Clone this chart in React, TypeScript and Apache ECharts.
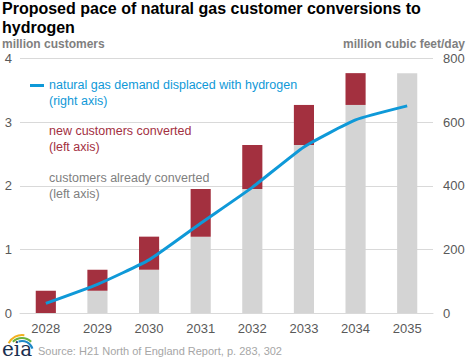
import React, { useEffect, useRef } from "react";
import * as echarts from "echarts";

const years = ["2028", "2029", "2030", "2031", "2032", "2033", "2034", "2035"];
const alreadyConverted = [0, 0.35, 0.68, 1.2, 1.95, 2.64, 3.27, 3.77];
const newConverted = [0.35, 0.33, 0.52, 0.75, 0.69, 0.63, 0.5, 0];
const gasDisplaced = [30, 90, 167, 282, 395, 522, 607, 651];
const leftTicks = [0, 1, 2, 3, 4];
const rightTicks = [0, 200, 400, 600, 800];

const FONT = "Liberation Sans, Arial, sans-serif";
const BLUE = "#0f99d8";
const RED = "#a3303f";
const GRAY = "#d4d4d4";

export default function App() {
  const ref = useRef<HTMLDivElement>(null);
  useEffect(() => {
    if (!ref.current) return;
    const chart = echarts.init(ref.current, undefined, { renderer: "svg" });
    chart.setOption({
      animation: false,
      textStyle: { fontFamily: FONT },
      grid: { left: 20, right: 35, top: 58.5, bottom: 47, containLabel: false, outerBoundsMode: "none" },
      xAxis: {
        type: "category",
        data: years,
        axisTick: { show: false },
        axisLine: { lineStyle: { color: "#d9d9d9" } },
        axisLabel: { color: "#595959", fontSize: 13, margin: 9, fontFamily: FONT },
      },
      yAxis: [
        {
          type: "value",
          min: leftTicks[0],
          max: leftTicks[leftTicks.length - 1],
          interval: 1,
          axisLine: { show: false },
          axisTick: { show: false },
          splitLine: { lineStyle: { color: "#d9d9d9" } },
          axisLabel: { color: "#595959", fontSize: 13, margin: 8, fontFamily: FONT },
        },
        {
          type: "value",
          min: rightTicks[0],
          max: rightTicks[rightTicks.length - 1],
          interval: 200,
          position: "right",
          axisLine: { show: false },
          axisTick: { show: false },
          splitLine: { show: false },
          axisLabel: { color: "#595959", fontSize: 13, margin: 10, fontFamily: FONT },
        },
      ],
      series: [
        {
          type: "bar",
          name: "customers already converted",
          stack: "c",
          data: alreadyConverted,
          barWidth: "39%",
          itemStyle: { color: GRAY },
          yAxisIndex: 0,
        },
        {
          type: "bar",
          name: "new customers converted",
          stack: "c",
          data: newConverted,
          barWidth: "39%",
          itemStyle: { color: RED },
          yAxisIndex: 0,
        },
        {
          type: "line",
          name: "natural gas demand displaced with hydrogen",
          data: gasDisplaced,
          yAxisIndex: 1,
          symbol: "none",
          smooth: 0.15,
          lineStyle: { color: BLUE, width: 3 },
          itemStyle: { color: BLUE },
          z: 5,
        },
      ],
      graphic: [
        { type: "text", left: 2, top: 0, style: { text: "Proposed pace of natural gas customer conversions to", font: `bold 16px ${FONT}`, fill: "#000" } },
        { type: "text", left: 2, top: 19, style: { text: "hydrogen", font: `bold 16px ${FONT}`, fill: "#000" } },
        { type: "text", left: 2, top: 38, style: { text: "million customers", font: `bold 12px ${FONT}`, fill: "#7f7f7f" } },
        { type: "text", right: 3, top: 38, style: { text: "million cubic feet/day", font: `bold 12px ${FONT}`, fill: "#7f7f7f" } },
        { type: "line", shape: { x1: 30, y1: 85.5, x2: 44, y2: 85.5 }, style: { stroke: BLUE, lineWidth: 3 } },
        { type: "text", left: 49, top: 78, style: { text: "natural gas demand displaced with hydrogen", font: `12.5px ${FONT}`, fill: BLUE } },
        { type: "text", left: 49, top: 94, style: { text: "(right axis)", font: `12.5px ${FONT}`, fill: BLUE } },
        { type: "text", left: 49, top: 124, style: { text: "new customers converted", font: `12.5px ${FONT}`, fill: RED } },
        { type: "text", left: 49, top: 140, style: { text: "(left axis)", font: `12.5px ${FONT}`, fill: RED } },
        { type: "text", left: 49, top: 171, style: { text: "customers already converted", font: `12.5px ${FONT}`, fill: "#808080" } },
        { type: "text", left: 49, top: 187, style: { text: "(left axis)", font: `12.5px ${FONT}`, fill: "#808080" } },
        { type: "text", left: 38, top: 345, style: { text: "Source: H21 North of England Report, p. 283, 302", font: `11px ${FONT}`, fill: "#a6a6a6" } },
        { type: "text", left: 2, top: 339, style: { text: "eia", font: `20px DejaVu Serif, serif`, fill: "#1a3050" } },
        { type: "arc", shape: { cx: 22, cy: 350, r: 15, startAngle: -Math.PI * 0.85, endAngle: -Math.PI * 0.45 }, style: { stroke: "#f2b01e", lineWidth: 2, fill: "none" } },
        { type: "arc", shape: { cx: 22, cy: 351, r: 13, startAngle: -Math.PI * 0.75, endAngle: -Math.PI * 0.25 }, style: { stroke: "#6cb33f", lineWidth: 2, fill: "none" } },
        { type: "arc", shape: { cx: 22, cy: 352, r: 11, startAngle: -Math.PI * 0.6, endAngle: -Math.PI * 0.1 }, style: { stroke: "#1e88c7", lineWidth: 2, fill: "none" } },
      ],
    });
    return () => chart.dispose();
  }, []);
  return <div ref={ref} style={{ width: 468, height: 360, position: "absolute", left: 0, top: 0 }} />;
}
